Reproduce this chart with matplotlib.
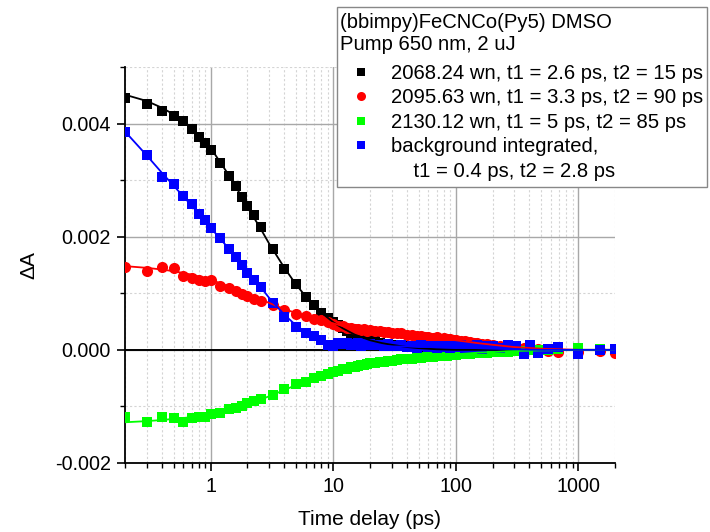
import numpy as np
import matplotlib
matplotlib.use("Agg")
import matplotlib.pyplot as plt
from matplotlib.lines import Line2D
from matplotlib.patches import Rectangle
from matplotlib.ticker import LogLocator, MultipleLocator, FormatStrFormatter, FixedLocator, FixedFormatter

plt.rcParams["font.family"] = ["Liberation Sans", "DejaVu Sans"]
plt.rcParams["axes.unicode_minus"] = False

# Pump-probe delays (ps)
delay_ps = [0.2, 0.3, 0.4, 0.5, 0.6, 0.7, 0.8, 0.9, 1.0, 1.2, 1.4, 1.6, 1.8, 2.0, 2.25, 2.6, 3.2, 4.0, 5.0, 6.0, 7.0, 8.0, 9.0,
            10, 11, 12, 13, 14, 15, 16, 17, 18, 19, 20, 22, 24, 26, 28, 30, 33, 36, 40, 44, 48, 52, 56, 60, 65, 70, 75, 80, 85, 90, 95, 100,
            110, 120, 130, 140, 150, 165, 180, 200, 230, 270, 310, 360, 405, 470, 570, 690, 1000, 1500, 2000]

# Transient absorption, in units of 1e-3 (mOD)
dA_2068 = [4.46, 4.34, 4.22, 4.13, 4.04, 3.90, 3.77, 3.66, 3.54, 3.31, 3.07, 2.90, 2.71, 2.54, 2.38, 2.17, 1.78, 1.43, 1.17, 0.93, 0.80, 0.66, 0.57,
           0.50, 0.44, 0.38, 0.33, 0.30, 0.27, 0.24, 0.22, 0.20, 0.18, 0.17, 0.15, 0.13, 0.11, 0.10, 0.09, 0.08, 0.07, 0.065, 0.06, 0.055, 0.05, 0.04, 0.04, 0.03, 0.03, 0.02, 0.02, 0.02, 0.01, 0.01, 0.01,
           0.01, 0.00, 0.01, -0.01, 0.00, 0.01, 0.00, -0.01, 0.00, 0.01, -0.02, 0.00, 0.01, -0.01, 0.00, 0.01, -0.02, 0.00, -0.01]
dA_2095 = [1.46, 1.40, 1.47, 1.44, 1.31, 1.27, 1.24, 1.22, 1.24, 1.12, 1.10, 1.04, 0.98, 0.95, 0.90, 0.87, 0.80, 0.71, 0.64, 0.59, 0.55, 0.52, 0.49,
           0.45, 0.42, 0.42, 0.39, 0.39, 0.36, 0.37, 0.35, 0.36, 0.34, 0.35, 0.33, 0.33, 0.31, 0.32, 0.30, 0.29, 0.29, 0.27, 0.27, 0.25, 0.25, 0.23, 0.23, 0.21, 0.22, 0.20, 0.21, 0.19, 0.19, 0.18, 0.17,
           0.16, 0.15, 0.14, 0.13, 0.12, 0.11, 0.10, 0.09, 0.07, 0.06, 0.04, 0.03, 0.02, 0.01, -0.02, -0.03, -0.04, -0.02, -0.05]
dA_2130 = [-1.18, -1.28, -1.18, -1.21, -1.27, -1.21, -1.18, -1.19, -1.13, -1.12, -1.05, -1.03, -0.99, -0.94, -0.90, -0.86, -0.79, -0.70, -0.61, -0.56, -0.50, -0.46, -0.43,
           -0.39, -0.37, -0.34, -0.33, -0.31, -0.30, -0.28, -0.27, -0.26, -0.25, -0.24, -0.23, -0.22, -0.21, -0.20, -0.19, -0.18, -0.17, -0.16, -0.155, -0.15, -0.14, -0.135, -0.13, -0.12, -0.115, -0.11, -0.10, -0.10, -0.09, -0.09, -0.085,
           -0.08, -0.07, -0.07, -0.06, -0.06, -0.05, -0.05, -0.04, -0.03, -0.03, -0.02, -0.02, -0.01, -0.01, 0.00, 0.01, 0.03, 0.02, 0.02]
dA_bg = [3.85, 3.44, 3.05, 2.93, 2.72, 2.58, 2.41, 2.30, 2.15, 1.97, 1.78, 1.64, 1.50, 1.35, 1.24, 1.11, 0.83, 0.58, 0.40, 0.30, 0.24, 0.17, 0.08,
         0.06, 0.12, 0.10, 0.12, 0.08, 0.11, 0.12, 0.07, 0.10, 0.09, 0.11, 0.08, 0.09, 0.06, 0.10, 0.07, 0.06, 0.09, 0.05, 0.07, 0.04, 0.08, 0.06, 0.05, 0.07, 0.04, 0.06, 0.05, 0.07, 0.03, 0.06, 0.05,
         0.08, 0.03, 0.06, 0.04, 0.09, 0.02, 0.07, 0.07, 0.04, 0.09, 0.06, -0.08, 0.08, -0.05, 0.01, 0.05, -0.07, -0.01, 0.01]

# Biexponential fit curves (mOD)
fit_t = [0.2, 0.3, 0.4, 0.5, 0.7, 1.0, 1.5, 2.0, 2.5, 3.0, 4.0, 5.0, 6.0, 7.0, 8.0, 10, 12, 15, 20, 25, 30, 40, 50, 70, 100, 150, 200, 300, 500, 1000, 2000]
fit_2068 = [4.51, 4.40, 4.28, 4.16, 3.93, 3.57, 3.00, 2.52, 2.18, 1.88, 1.45, 1.15, 0.94, 0.78, 0.66, 0.49, 0.38, 0.27, 0.17, 0.12, 0.09, 0.05, 0.03, 0.01, 0.0, 0.0, 0.0, 0.0, 0.0, 0.0, 0.0]
fit_2095 = [1.48, 1.45, 1.42, 1.39, 1.33, 1.24, 1.10, 0.99, 0.90, 0.83, 0.72, 0.65, 0.59, 0.55, 0.52, 0.47, 0.42, 0.38, 0.35, 0.32, 0.30, 0.27, 0.24, 0.21, 0.17, 0.12, 0.09, 0.05, 0.02, 0.0, 0.0]
fit_2130 = [-1.28, -1.26, -1.24, -1.22, -1.19, -1.14, -1.05, -0.97, -0.89, -0.82, -0.71, -0.62, -0.56, -0.51, -0.47, -0.40, -0.35, -0.30, -0.25, -0.21, -0.19, -0.16, -0.14, -0.11, -0.08, -0.05, -0.04, -0.02, -0.01, 0.0, 0.0]
fit_bg = [3.86, 3.44, 3.13, 2.90, 2.55, 2.16, 1.72, 1.40, 1.14, 0.92, 0.62, 0.43, 0.31, 0.23, 0.17, 0.11, 0.09, 0.08, 0.07, 0.07, 0.06, 0.06, 0.05, 0.05, 0.04, 0.03, 0.02, 0.01, 0.0, 0.0, 0.0]

series_labels = ["2068.24 wn, t1 = 2.6 ps, t2 = 15 ps",
                 "2095.63 wn, t1 = 3.3 ps, t2 = 90 ps",
                 "2130.12 wn, t1 = 5 ps, t2 = 85 ps",
                 "background integrated,"]
bg_label_cont = "    t1 = 0.4 ps, t2 = 2.8 ps"
title_lines = ["(bbimpy)FeCNCo(Py5) DMSO", "Pump 650 nm, 2 uJ"]

MOD = 1e-3
W, H = 710, 532
t = np.array(delay_ps)
tf = np.array(fit_t)

fig = plt.figure(figsize=(W / 100, H / 100), dpi=100)
ax = fig.add_axes([125 / W, 1 - 463 / H, 490 / W, 396 / H])

ax.set_xscale("log")
ax.set_xlim(0.2, 2000)
ax.set_ylim(-0.002, 0.005)

# grid: solid at majors, dotted at minors
ax.xaxis.set_minor_locator(LogLocator(base=10, subs=np.arange(2, 10), numticks=20))
ax.xaxis.set_major_locator(FixedLocator([1, 10, 100, 1000]))
ax.xaxis.set_major_formatter(FixedFormatter(["1", "10", "100", "1000"]))
ax.xaxis.set_minor_formatter(FixedFormatter([]))
ax.yaxis.set_major_locator(MultipleLocator(0.002))
ax.yaxis.set_minor_locator(MultipleLocator(0.001))
ax.yaxis.set_major_formatter(FormatStrFormatter("%.3f"))

ax.grid(True, which="major", color="#a8a8a8", lw=1.0, ls="-")
ax.grid(True, which="minor", color="#d4d4d4", lw=0.8, ls=(0, (2, 2)))
ax.set_axisbelow(True)
ax.axhline(0, color="black", lw=1.4, zorder=1.5)

for s in ("top", "right"):
    ax.spines[s].set_visible(False)
for s in ("left", "bottom"):
    ax.spines[s].set_linewidth(1.3)
ax.tick_params(which="major", direction="out", length=6, width=1.2, labelsize=14.2, pad=4)
ax.tick_params(which="minor", direction="out", length=3.5, width=1.0)

ms_sq = 7.2
ax.plot(t, np.array(dA_2068) * MOD, "s", color="black", ms=ms_sq, mew=0, zorder=3)
ax.plot(t, np.array(dA_2095) * MOD, "o", color="#ff0000", ms=8.0, mew=0, zorder=3)
ax.plot(t, np.array(dA_2130) * MOD, "s", color="#00ff00", ms=ms_sq, mew=0, zorder=3)
ax.plot(t, np.array(dA_bg) * MOD, "s", color="#0000ff", ms=ms_sq, mew=0, zorder=3)

ax.plot(tf, np.array(fit_2068) * MOD, "-", color="black", lw=1.3, zorder=4)
ax.plot(tf, np.array(fit_2095) * MOD, "-", color="#ff0000", lw=1.3, zorder=4)
ax.plot(tf, np.array(fit_2130) * MOD, "-", color="#00ff00", lw=1.3, zorder=4)
ax.plot(tf, np.array(fit_bg) * MOD, "-", color="#0000ff", lw=1.3, zorder=4)

ax.set_ylabel("ΔA", fontsize=15, labelpad=12)
ax.set_xlabel("Time delay (ps)", fontsize=15, labelpad=10)

# legend box with a two-line heading
fig.add_artist(Rectangle((337 / W, 1 - 187 / H), 370 / W, 180 / H, transform=fig.transFigure,
                         facecolor="white", edgecolor="#888888", lw=1.0, zorder=2))
for i, line in enumerate(title_lines):
    fig.text(340 / W, 1 - (22 + 23 * i) / H, line, fontsize=14.6, ha="left", va="center", zorder=3)

handles = [Line2D([], [], marker="s", color="black", ls="none", ms=5.5, mew=0),
           Line2D([], [], marker="o", color="#ff0000", ls="none", ms=6.5, mew=0),
           Line2D([], [], marker="s", color="#00ff00", ls="none", ms=5.5, mew=0),
           Line2D([], [], marker="s", color="#0000ff", ls="none", ms=5.5, mew=0),
           Line2D([], [], ls="none")]
labels = series_labels + [bg_label_cont]
leg = fig.legend(handles, labels, loc="upper left",
                 bbox_to_anchor=(339 / W, 1 - 64 / H), fontsize=14.6,
                 frameon=False, borderpad=0, handlelength=2.2, handletextpad=0.35,
                 labelspacing=0.27, borderaxespad=0)
leg.set_zorder(4)

fig.savefig("out.png", dpi=100)
